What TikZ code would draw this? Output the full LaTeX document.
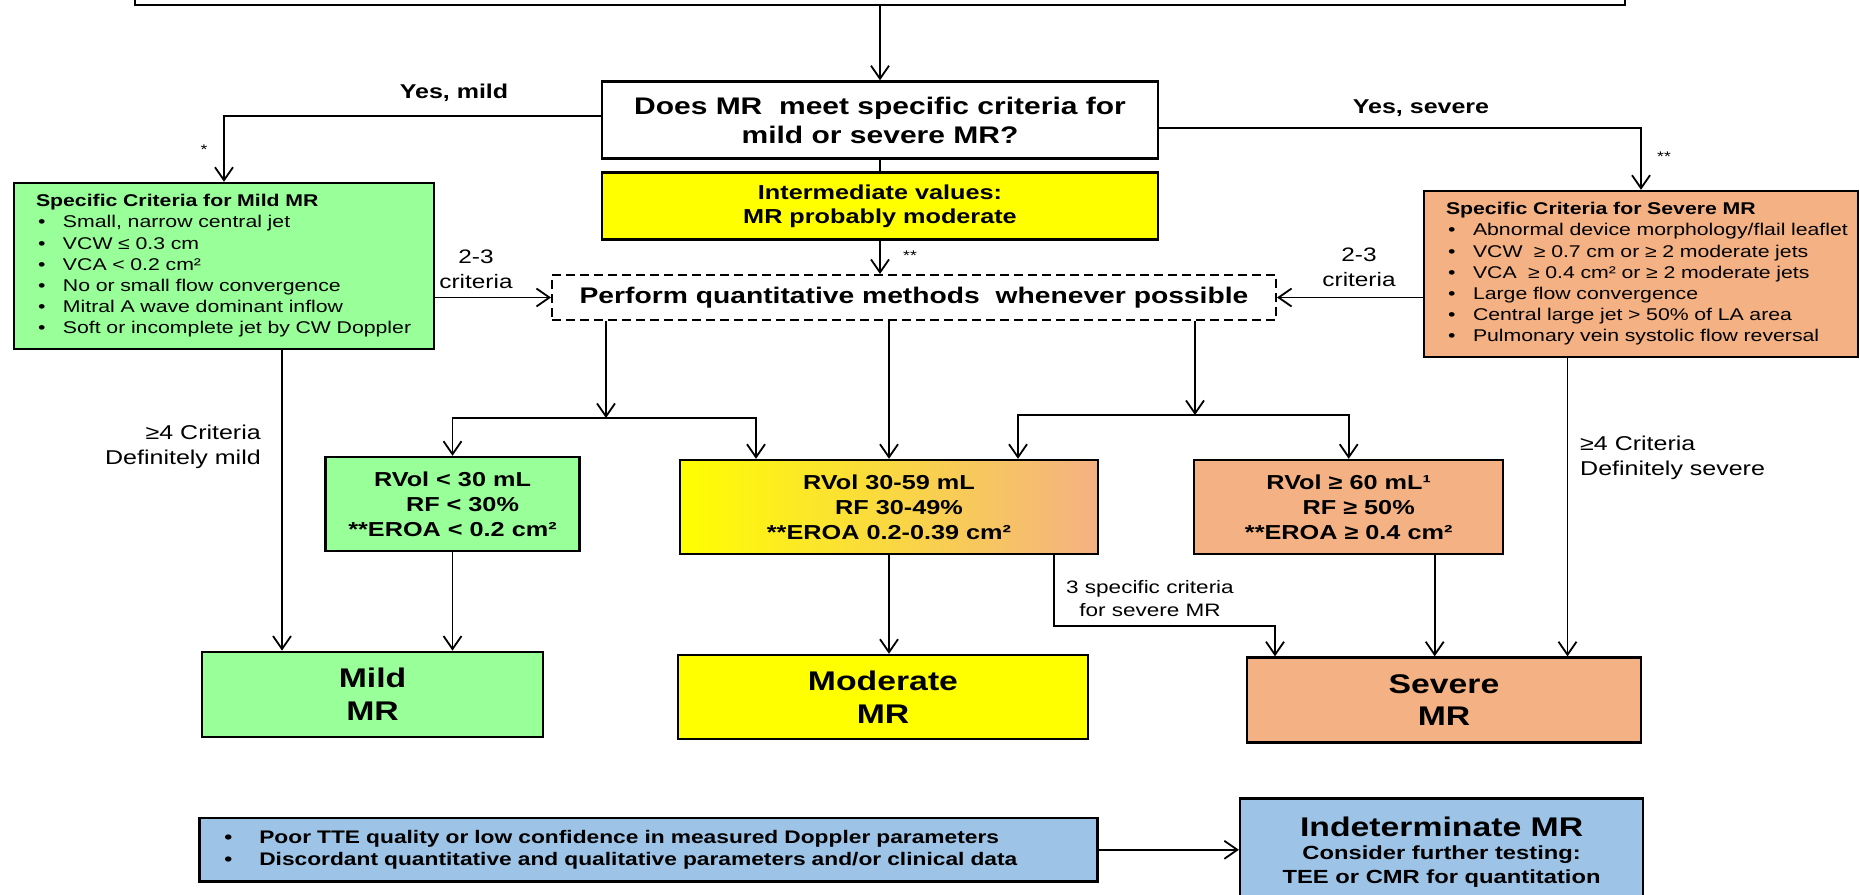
\documentclass[tikz,border=0pt]{standalone}
\usepackage{fontspec}
\setmainfont{Liberation Sans}[FakeStretch=1.25]
\usetikzlibrary{arrows.meta}

\definecolor{mildgreen}{HTML}{99FF99}
\definecolor{modyellow}{HTML}{FFFF00}
\definecolor{sevorange}{HTML}{F4B183}
\definecolor{indblue}{HTML}{9DC3E6}
\newcommand{\fs}[2]{\fontsize{#1}{#2}\selectfont}
\newcommand{\bul}[1]{\hspace*{2pt}\makebox[25pt][l]{\textbullet}\mbox{#1}}

\begin{document}
\begin{tikzpicture}
  [x=1pt,y=-1pt,
   box/.style={draw,line width=2.4pt,inner sep=0pt,align=center},
   crit/.style={box,align=left,inner xsep=22pt,font=\fs{17}{21.2}},
   arr/.style={line width=1.8pt,-{Straight Barb[length=13pt,width=18pt]}},
   lbl/.style={inner sep=0pt,align=center,font=\fs{20}{25}}]
  \useasboundingbox (0,0) rectangle (1860,894);
  \clip (0,0) rectangle (1860,894);

  \node[box,line width=2pt,minimum width=1490,minimum height=60] (top) at (880,-25) {};
  \node[box,minimum width=556,minimum height=77,font=\bfseries\fs{24}{29}] (q) at (880,120)
    {Does MR\ \ meet specific criteria for\\mild or severe MR?};
  \node[box,fill=modyellow,minimum width=556,minimum height=67,font=\bfseries\fs{20.2}{24.3}] (inter) at (880,206)
    {Intermediate values:\\MR probably moderate};
  \node[crit,fill=mildgreen,text width=376,minimum height=166] (mildc) at (224,266)
    {{\bfseries Specific Criteria for Mild MR}\\
     \bul{Small, narrow central jet}\\
     \bul{VCW ≤ 0.3 cm}\\
     \bul{VCA < 0.2 cm²}\\
     \bul{No or small flow convergence}\\
     \bul{Mitral A wave dominant inflow}\\
     \bul{Soft or incomplete jet by CW Doppler}};
  \node[crit,fill=sevorange,text width=390,minimum height=166] (sevc) at (1641,274)
    {{\bfseries Specific Criteria for Severe MR}\\
     \bul{Abnormal device morphology/flail leaflet}\\
     \bul{VCW\ \ ≥ 0.7 cm or ≥ 2 moderate jets}\\
     \bul{VCA\ \ ≥ 0.4 cm² or ≥ 2 moderate jets}\\
     \bul{Large flow convergence}\\
     \bul{Central large jet > 50\% of LA area}\\
     \bul{Pulmonary vein systolic flow reversal}};
  \node[box,line width=2pt,dash pattern=on 9pt off 5pt,minimum width=724,minimum height=45,font=\bfseries\fs{22.6}{27}] (quant) at (914,297.5)
    {Perform quantitative methods\ \ whenever possible};

  \node[box,fill=mildgreen,minimum width=254,minimum height=94,font=\bfseries\fs{20.2}{25}] (rmild) at (452.5,504)
    {RVol < 30 mL\\\hspace*{20pt}RF < 30\%\\**EROA < 0.2 cm²};
  \node[box,left color=modyellow,right color=sevorange,minimum width=418,minimum height=94,font=\bfseries\fs{20.2}{25}] (rmod) at (889,507)
    {RVol 30-59 mL\\\hspace*{20pt}RF 30-49\%\\**EROA 0.2-0.39 cm²};
  \node[box,fill=sevorange,minimum width=309,minimum height=94,font=\bfseries\fs{20.2}{25}] (rsev) at (1348.7,507)
    {RVol ≥ 60 mL¹\\\hspace*{20pt}RF ≥ 50\%\\**EROA ≥ 0.4 cm²};

  \node[box,fill=mildgreen,minimum width=341,minimum height=85,font=\bfseries\fs{27}{32.5}] (mild) at (372.5,694.3) {Mild\\MR};
  \node[box,fill=modyellow,minimum width=410,minimum height=84,font=\bfseries\fs{27}{32.5}] (mod) at (883,697) {Moderate\\MR};
  \node[box,fill=sevorange,minimum width=394,minimum height=85,font=\bfseries\fs{27}{32.5}] (sev) at (1444,700) {Severe\\MR};

  \node[box,fill=indblue,align=left,inner xsep=25pt,text width=848,minimum height=63.5,font=\bfseries\fs{18.2}{21.5}] (poor) at (648.3,849.8)
    {\makebox[35pt][l]{\textbullet}Poor TTE quality or low confidence in measured Doppler parameters\\
     \makebox[35pt][l]{\textbullet}Discordant quantitative and qualitative parameters and/or clinical data};
  \node[box,fill=indblue,minimum width=403,minimum height=107,font=\bfseries\fs{19}{23.5}] (indet) at (1441.6,852)
    {{\fs{27}{27}Indeterminate MR}\\Consider further testing:\\TEE or CMR for quantitation};

  \node[lbl,font=\bfseries\fs{20}{25}] (ymild) at (454,93) {Yes, mild};
  \node[lbl,font=\bfseries\fs{20}{25}] (ysev) at (1421,108) {Yes, severe};
  \node[lbl,font=\fs{14}{16}] (st1) at (204,150) {*};
  \node[lbl,font=\fs{14}{16}] (st2) at (1664,157) {**};
  \node[lbl,font=\fs{14}{16}] (st3) at (910,256) {**};
  \node[lbl,font=\fs{19.5}{25}] (c23l) at (476,269) {2-3\\criteria};
  \node[lbl,font=\fs{19.5}{25}] (c23r) at (1359,267) {2-3\\criteria};
  \node[lbl,align=right,anchor=east] (defm) at (261,446.5) {≥4 Criteria\\Definitely mild};
  \node[lbl,align=left,anchor=west] (defs) at (1580,458) {≥4 Criteria\\Definitely severe};
  \node[lbl,font=\fs{18}{22.7}] (thr) at (1150,598.6) {3 specific criteria\\for severe MR};

  \coordinate (jl) at (606,418);
  \coordinate (jlr) at (756,418);
  \coordinate (jr) at (1195,415);
  \coordinate (jrl) at (1018,415);
  \coordinate (thrA) at (1054,626);
  \coordinate (thrB) at (1275,626);

  \draw[arr] (top) -- (q);
  \draw[line width=1.8pt] (q) -- (inter);
  \draw[arr] (inter) -- (inter |- quant.north);
  \draw[arr] ([yshift=4pt]q.west) -| (mildc);
  \draw[arr] ([yshift=-8pt]q.east) -| (sevc);
  \draw[arr] (mildc.east |- quant) -- (quant);
  \draw[arr] (sevc.west |- quant) -- (quant);

  \foreach \j in {jl,jr}
    \draw[arr] (quant.south -| \j) -- (\j);
  \draw[arr] (jl) -| (rmild);
  \draw[arr] (jl) -- (jlr) -- (jlr |- rmod.north);
  \draw[arr] (quant.south -| rmod) -- (rmod);
  \draw[arr] (jr) -| (rsev);
  \draw[arr] (jr) -- (jrl) -- (jrl |- rmod.north);

  \foreach \from/\to in {rmild/mild,rmod/mod}
    \draw[arr] (\from) -- (\from |- \to.north);
  \draw[arr] ([xshift=58pt]mildc.south) -- ([xshift=58pt]mildc.south |- mild.north);
  \draw[arr] ([xshift=165pt]rmod.south) -- (thrA) -- (thrB) -- (thrB |- sev.north);
  \draw[arr] ([xshift=86pt]rsev.south) -- ([xshift=86pt]rsev.south |- sev.north);
  \draw[arr] ([xshift=-73.5pt]sevc.south) -- ([xshift=-73.5pt]sevc.south |- sev.north);
  \draw[arr] (poor) -- (poor -| indet.west);
\end{tikzpicture}
\end{document}
